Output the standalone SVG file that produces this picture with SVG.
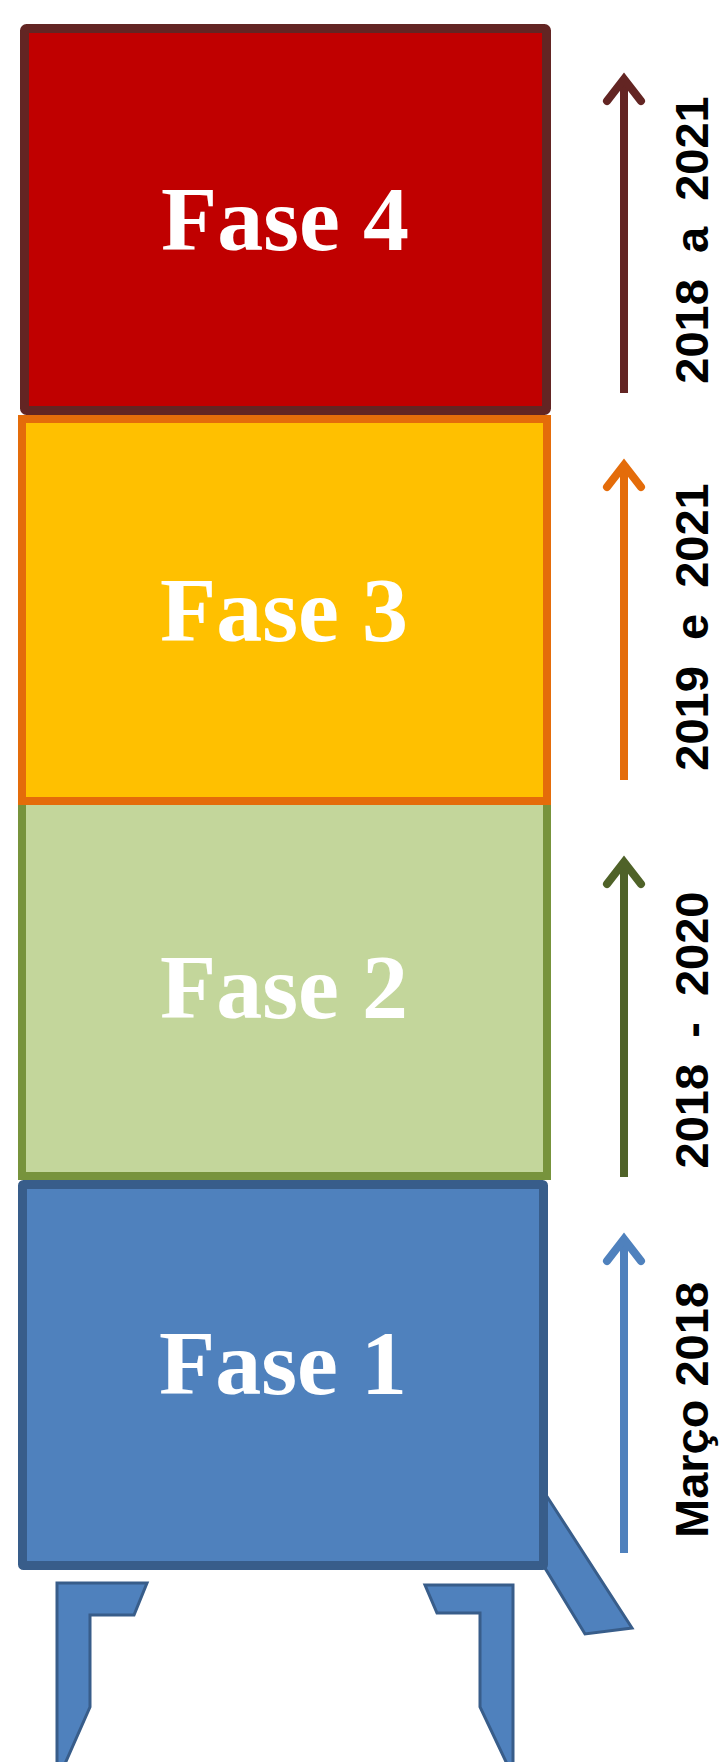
<svg xmlns="http://www.w3.org/2000/svg" width="720" height="1762" viewBox="0 0 720 1762">
<style>
.phase{font-family:"Liberation Serif","Times New Roman",serif;font-weight:bold;font-size:92px;fill:#ffffff;text-anchor:middle}
.lbl{font-family:"Liberation Sans",Arial,sans-serif;font-weight:bold;font-size:47px;fill:#000000;text-anchor:middle;white-space:pre}
.blue{fill:#4F81BD;stroke:#385D8A;stroke-width:3;stroke-linejoin:miter}
.shaft{fill:none;stroke-width:8}
.head{fill:none;stroke-width:8;stroke-linecap:round;stroke-linejoin:miter}
</style>
<rect width="720" height="1762" fill="#ffffff"/>
<g id="stand">
<polygon class="blue" points="57,1583 147,1583 134,1615 90,1615 90,1707 64,1766 57,1766"/>
<polygon class="blue" points="425,1585 513,1585 513,1766 508,1766 480,1707 480,1613 437,1613"/>
<polygon class="blue" points="546,1495 632,1628 585,1634 545,1568"/>
</g>
<g id="fase1">
<rect x="22.5" y="1184.5" width="521" height="381" rx="1" fill="#4F81BD" stroke="#385D8A" stroke-width="9"/>
<text class="phase" x="283" y="1394">Fase 1</text>
</g>
<g id="fase2">
<rect x="22" y="801" width="525" height="375" fill="#C3D69B" stroke="#77933C" stroke-width="8"/>
<text class="phase" x="284" y="1018">Fase 2</text>
</g>
<g id="fase3">
<rect x="22" y="419" width="525" height="382" fill="#FFC000" stroke="#E46C0A" stroke-width="8"/>
<text class="phase" x="284" y="641">Fase 3</text>
</g>
<g id="fase4">
<rect x="24.5" y="28.5" width="522" height="382" rx="2" fill="#C00000" stroke="#632523" stroke-width="9"/>
<text class="phase" x="285" y="250">Fase 4</text>
</g>
<g id="connectors">
<path class="shaft" stroke="#632523" d="M624,393 V80"/>
<path class="head" stroke="#632523" d="M607,101 L624,79 L641,101"/>
<path class="shaft" stroke="#E46C0A" d="M624,780 V466"/>
<path class="head" stroke="#E46C0A" d="M607,487 L624,465 L641,487"/>
<path class="shaft" stroke="#4F6228" d="M624,1177 V863"/>
<path class="head" stroke="#4F6228" d="M607,884 L624,862 L641,884"/>
<path class="shaft" stroke="#4F81BD" d="M624,1553 V1240"/>
<path class="head" stroke="#4F81BD" d="M607,1261 L624,1239 L641,1261"/>
</g>
<g id="labels">
<text class="lbl" xml:space="preserve" transform="translate(708,240) rotate(-90)">2018  a  2021</text>
<text class="lbl" xml:space="preserve" transform="translate(708,627) rotate(-90)">2019  e  2021</text>
<text class="lbl" xml:space="preserve" transform="translate(708,1030) rotate(-90)">2018  -  2020</text>
<text class="lbl" xml:space="preserve" transform="translate(708,1410) rotate(-90)">Março 2018</text>
</g>
</svg>
